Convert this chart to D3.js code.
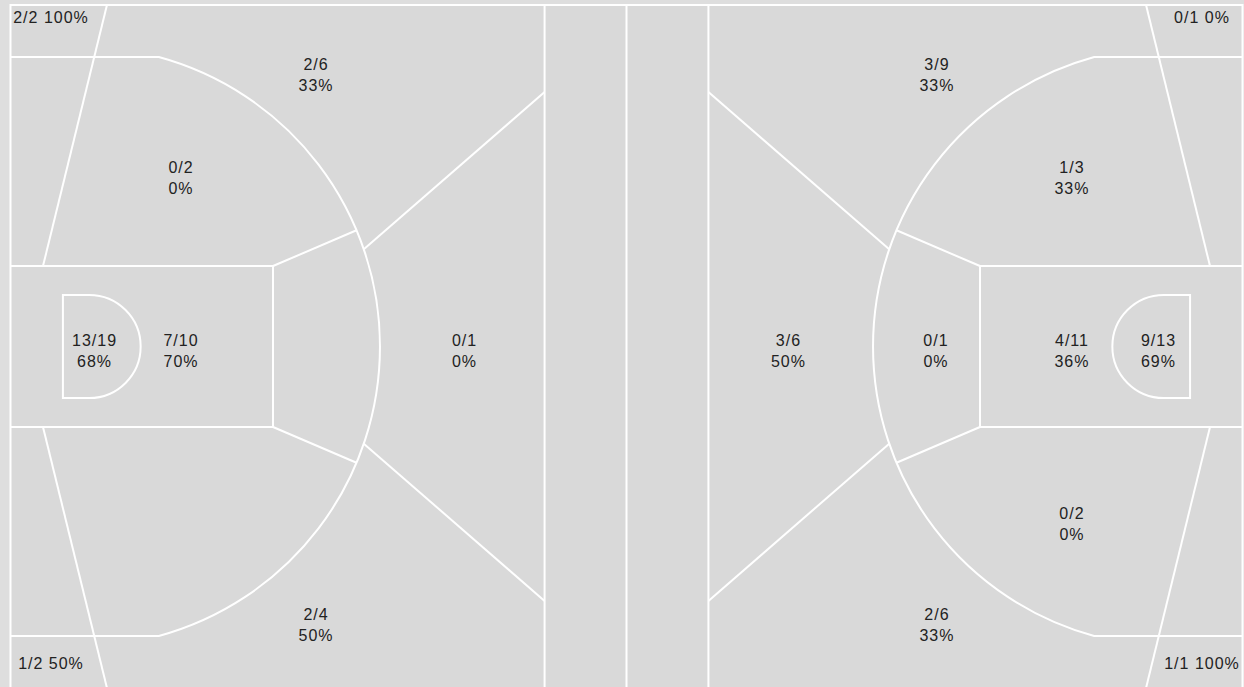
<!DOCTYPE html>
<html>
<head>
<meta charset="utf-8">
<script src="https://cdn.jsdelivr.net/npm/d3@7/dist/d3.min.js"></script>
<style>
  html, body { margin: 0; padding: 0; background: #dedede; }
  svg { display: block; }
</style>
</head>
<body>
<div id="chart"></div>
<script>
// ---------- data ----------
const zones = ["cornerTop", "cornerBottom", "wingTop", "wingBottom", "midTop",
               "midBottom", "restricted", "paint", "midCenter", "topKey"];
const leftMade     = [2, 1, 2, 2, 0, null, 13, 7, null, 0];
const leftAttempts = [2, 2, 6, 4, 2, null, 19, 10, null, 1];
const rightMade     = [0, 1, 3, 2, 1, 0, 9, 4, 0, 3];
const rightAttempts = [1, 1, 9, 6, 3, 2, 13, 11, 1, 6];

// ---------- layout ----------
const W = 1244, H = 687;
const courtLen = 94, courtWid = 50;
const x = d3.scaleLinear().domain([0, courtLen]).range([10.5, 1242.5]);
const y = d3.scaleLinear().domain([0, courtWid]).range([5, 688]);
const dx = f => x(f) - x(0);

// label anchors (feet, left half; mirrored for right half)
const anchors = {
  cornerTop:    [3.09, 0.915, true],
  cornerBottom: [3.09, 48.24, true],
  wingTop:      [23.31, 5.16],
  wingBottom:   [23.31, 45.42],
  midTop:       [13.01, 12.70],
  midBottom:    [13.01, 37.96],
  restricted:   [6.41, 25.33],
  paint:        [13.01, 25.33],
  midCenter:    [23.39, 25.33],
  topKey:       [34.64, 25.33]
};

const svg = d3.select("#chart").append("svg")
  .attr("width", W).attr("height", H);

svg.append("rect").attr("x", 0).attr("y", 0).attr("width", W).attr("height", H)
  .attr("fill", "#dedede");

svg.append("rect")
  .attr("x", x(0)).attr("y", y(0))
  .attr("width", x(courtLen) - x(0)).attr("height", y(courtWid) - y(0))
  .attr("fill", "#d9d9d9").attr("stroke", "#fff").attr("stroke-width", 2);

const lines = svg.append("g").attr("fill", "none").attr("stroke", "#fff").attr("stroke-width", 2);

// center area vertical lines
[40.75, 47, 53.25].forEach(f => {
  lines.append("line").attr("x1", x(f)).attr("x2", x(f)).attr("y1", y(0)).attr("y2", y(courtWid));
});

function drawHalf(side) {
  const s = side === "L" ? 1 : -1;
  const fx = f => side === "L" ? x(f) : x(courtLen - f);
  const cy = y(25);
  // key
  const keyLen = 20.03, keyTop = 19.11, keyBot = 30.89;
  const p = d3.path();
  p.moveTo(fx(0), y(keyTop)); p.lineTo(fx(keyLen), y(keyTop));
  p.lineTo(fx(keyLen), y(keyBot)); p.lineTo(fx(0), y(keyBot));
  lines.append("path").attr("d", p.toString());

  // restricted "D"
  const dR = dx(3.93), dC = fx(6.0), dS = fx(4.0);
  const pd = d3.path();
  pd.moveTo(dS, cy - dR); pd.lineTo(dC, cy - dR);
  if (side === "L") pd.arc(dC, cy, dR, -Math.PI / 2, Math.PI / 2, false);
  else pd.arc(dC, cy, dR, -Math.PI / 2, Math.PI / 2, true);
  pd.lineTo(dS, cy + dR); pd.closePath();
  lines.append("path").attr("d", pd.toString());

  // three point line
  const bx = fx(5.3), r = dx(22.89);
  const cdy = cy - y(3.81);
  const a0 = Math.asin(cdy / r);
  const jx = bx + s * r * Math.cos(a0);
  const p3 = d3.path();
  p3.moveTo(fx(0), cy - cdy); p3.lineTo(jx, cy - cdy);
  if (side === "L") p3.arc(bx, cy, r, -a0, a0, false);
  else p3.arc(bx, cy, r, Math.PI + a0, Math.PI - a0, true);
  p3.lineTo(fx(0), cy + cdy);
  lines.append("path").attr("d", p3.toString());

  // corner dividers
  [[[7.36, 0], [2.48, keyTop]], [[2.48, keyBot], [7.36, courtWid]]].forEach(seg => {
    lines.append("line")
      .attr("x1", fx(seg[0][0])).attr("y1", y(seg[0][1]))
      .attr("x2", fx(seg[1][0])).attr("y2", y(seg[1][1]));
  });

  // inner dividers (key corner -> arc)
  const ia = 22.8 * Math.PI / 180;
  [-1, 1].forEach(v => {
    lines.append("line")
      .attr("x1", fx(keyLen)).attr("y1", y(v < 0 ? keyTop : keyBot))
      .attr("x2", bx + s * r * Math.cos(ia)).attr("y2", cy + v * r * Math.sin(ia));
  });
  // outer dividers (arc -> center line)
  const oa = 18.9 * Math.PI / 180;
  [-1, 1].forEach(v => {
    lines.append("line")
      .attr("x1", bx + s * r * Math.cos(oa)).attr("y1", cy + v * r * Math.sin(oa))
      .attr("x2", fx(40.75)).attr("y2", y(v < 0 ? 6.37 : courtWid - 6.37));
  });
}
drawHalf("L");
drawHalf("R");

// labels
const labels = svg.append("g")
  .attr("font-family", "'Liberation Sans', Arial, Helvetica, sans-serif")
  .attr("font-size", 16).attr("letter-spacing", "1px")
  .attr("fill", "#222").attr("text-anchor", "middle");

function drawLabels(side, made, att) {
  zones.forEach((z, i) => {
    if (att[i] == null) return;
    const a = anchors[z];
    const px = side === "L" ? x(a[0]) : x(courtLen - a[0]);
    const py = y(a[1]);
    const pct = Math.round(100 * made[i] / att[i]) + "%";
    const frac = made[i] + "/" + att[i];
    if (a[2]) {
      labels.append("text").attr("x", px).attr("y", py)
        .attr("dominant-baseline", "central").text(frac + " " + pct);
    } else {
      labels.append("text").attr("x", px).attr("y", py - 10.5)
        .attr("dominant-baseline", "central").text(frac);
      labels.append("text").attr("x", px).attr("y", py + 10.5)
        .attr("dominant-baseline", "central").text(pct);
    }
  });
}
drawLabels("L", leftMade, leftAttempts);
drawLabels("R", rightMade, rightAttempts);
</script>
</body>
</html>
